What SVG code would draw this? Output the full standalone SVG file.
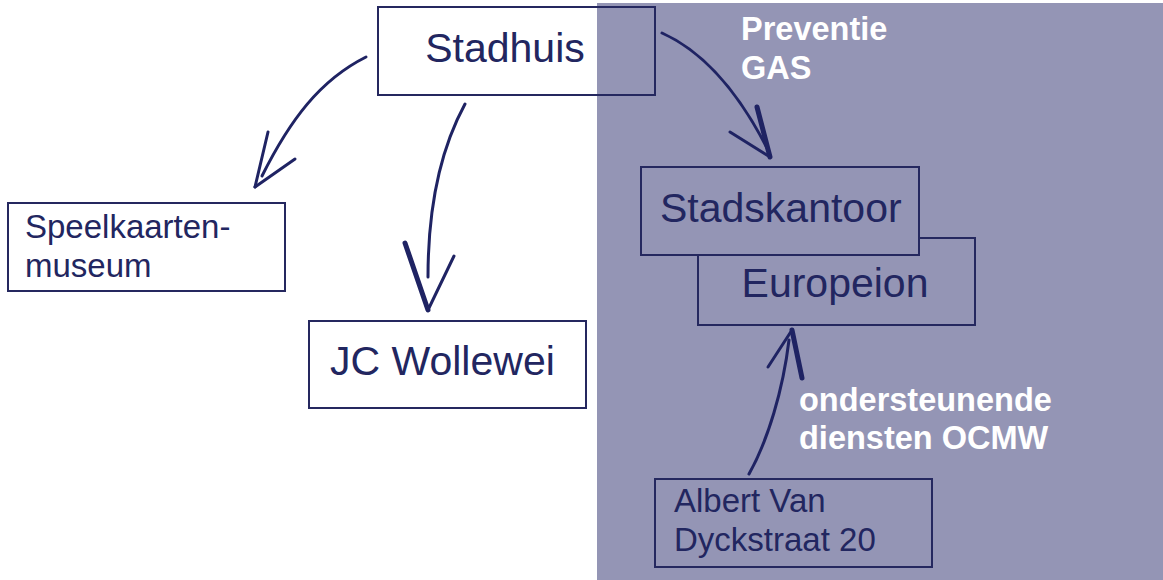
<svg xmlns="http://www.w3.org/2000/svg" width="1163" height="580" viewBox="0 0 1163 580">
<style>
.box{fill:none;stroke:#25285f;stroke-width:2}
.t{font-family:"Liberation Sans",Arial,sans-serif;fill:#222660}
.w{font-family:"Liberation Sans",Arial,sans-serif;font-weight:bold;fill:#ffffff;font-size:32.5px}
.c{fill:none;stroke:#1f2363;stroke-width:3;stroke-linecap:round;stroke-linejoin:round}
.h{fill:none;stroke:#1f2363;stroke-width:3;stroke-linecap:round}
.hb{fill:none;stroke:#1f2363;stroke-width:5;stroke-linecap:round}
</style>
<rect x="0" y="0" width="1163" height="580" fill="#ffffff"/>
<rect x="597" y="3" width="566" height="577" fill="#9495b5"/>
<g id="labels">
<text class="w" x="741" y="40">Preventie</text>
<text class="w" x="741" y="79">GAS</text>
<text class="w" x="799" y="411">ondersteunende</text>
<text class="w" x="799" y="449">diensten OCMW</text>
</g>
<g id="connectors">
<path class="c" d="M366,57 C320,80 290,120 262,176"/>
<path class="h" d="M255,187 L268,132"/>
<path class="h" d="M255,187 L295,159"/>
<path class="c" d="M465,104 C440,150 428,210 428,277"/>
<path class="hb" d="M405,243 L428,310"/>
<path class="h" d="M428,310 L454,256"/>
<path class="c" d="M662,33 C700,50 735,85 768,150"/>
<path class="hb" d="M757,107 L770,157"/>
<path class="h" d="M730,132 L770,157"/>
<path class="c" d="M749,474 C768,440 783,390 789,340"/>
<path class="h" d="M768,367 L792,330"/>
<path class="hb" d="M792,330 L802,378"/>
</g>
<g id="stadhuis">
<rect class="box" x="378" y="7" width="277" height="88"/>
<text class="t" x="505" y="62" font-size="41" text-anchor="middle">Stadhuis</text>
</g>
<g id="speelkaartenmuseum">
<rect class="box" x="8" y="203" width="277" height="88"/>
<text class="t" x="25" y="238" font-size="33">Speelkaarten-</text>
<text class="t" x="25" y="277" font-size="33">museum</text>
</g>
<g id="jcwollewei">
<rect class="box" x="309" y="321" width="277" height="87"/>
<text class="t" x="330" y="375" font-size="41">JC Wollewei</text>
</g>
<g id="europeion">
<rect class="box" x="698" y="238" width="277" height="87"/>
<text class="t" x="835" y="297" font-size="41" text-anchor="middle">Europeion</text>
</g>
<g id="stadskantoor">
<rect class="box" x="641" y="167" width="278" height="88" style="fill:#9495b5"/>
<text class="t" x="660" y="222" font-size="41">Stadskantoor</text>
</g>
<g id="albertvandyckstraat">
<rect class="box" x="655" y="479" width="277" height="88"/>
<text class="t" x="674" y="512" font-size="33">Albert Van</text>
<text class="t" x="674" y="551" font-size="33">Dyckstraat 20</text>
</g>
</svg>
